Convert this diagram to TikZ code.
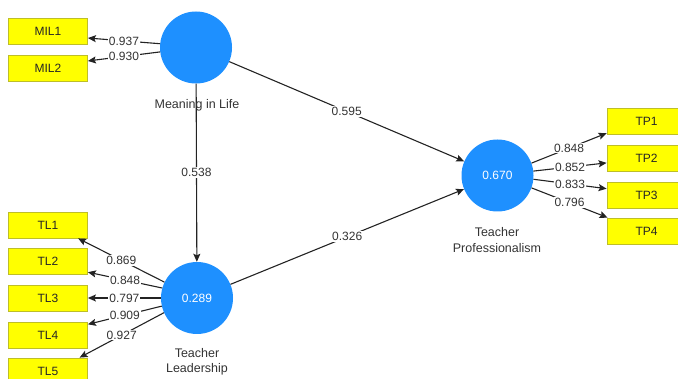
\documentclass[tikz,border=0pt]{standalone}
\usepackage{fontspec}
\setmainfont{Liberation Sans}
\usetikzlibrary{arrows.meta}
\definecolor{lvc}{RGB}{30,144,255}
\definecolor{indc}{RGB}{255,255,0}
\definecolor{indb}{RGB}{190,190,40}
\definecolor{lnc}{RGB}{35,35,35}
\begin{document}
\begin{tikzpicture}[x=1pt,y=-1pt,
 lvar/.style={circle,fill=lvc,minimum size=72pt,inner sep=0pt,text=white,font=\fontsize{12}{14}\selectfont},
 indbox/.style={rectangle,fill=indc,draw=indb,line width=0.8pt,minimum width=79pt,minimum height=26pt,inner sep=0pt,font=\fontsize{12}{14}\selectfont,text=black!85},
 conn/.style={draw=lnc,line width=1.1pt,-{Stealth[length=8pt,width=7pt,inset=1.5pt]}},
 lab/.style={fill=white,inner sep=1pt,font=\fontsize{12}{14}\selectfont,text=black!80},
 capt/.style={align=center,font=\fontsize{12.5}{15.5}\selectfont,text=black!80}
]
\useasboundingbox (0,0) rectangle (678,379);
% latent variables
\node[lvar] (ml) at (196,47.5) {};
\node[lvar] (tl) at (197,298) {0.289};
\node[lvar] (tp) at (497.5,175.5) {0.670};
% indicator boxes
\node[indbox] (mil1) at (48,31) {MIL1};
\node[indbox] (mil2) at (48,68) {MIL2};
\node[indbox] (tl1) at (48,225) {TL1};
\node[indbox] (tl2) at (48,261.5) {TL2};
\node[indbox] (tl3) at (48,298) {TL3};
\node[indbox] (tl4) at (48,335) {TL4};
\node[indbox] (tl5) at (48,371) {TL5};
\node[indbox] (tp1) at (646.5,121) {TP1};
\node[indbox] (tp2) at (646.5,158) {TP2};
\node[indbox] (tp3) at (646.5,195) {TP3};
\node[indbox] (tp4) at (646.5,231) {TP4};
% structural paths
\draw[conn] (ml) -- node[lab]{0.595} (tp);
\draw[conn] (ml) -- node[lab]{0.538} (tl);
\draw[conn] (tl) -- node[lab]{0.326} (tp);
% outer loadings
\draw[conn] (ml.174) -- node[lab]{0.937} (mil1.-10);
\draw[conn] (ml.187) -- node[lab]{0.930} (mil2.10);
\draw[conn] (tl.154) -- node[lab]{0.869} (tl1.-24);
\draw[conn] (tl.164) -- node[lab]{0.848} (tl2.-15);
\draw[conn] (tl.180) -- node[lab]{0.797} (tl3.0);
\draw[conn] (tl.193) -- node[lab]{0.909} (tl4.15);
\draw[conn] (tl.204) -- node[lab]{0.927} (tl5.23);
\draw[conn] (tp.20) -- node[lab]{0.848} (tp1.197);
\draw[conn] (tp.7) -- node[lab]{0.852} (tp2.187);
\draw[conn] (tp.-6) -- node[lab]{0.833} (tp3.171);
\draw[conn] (tp.-20) -- node[lab]{0.796} (tp4.161);
% captions
\node[capt] (mlc) at (197,105) {Meaning in Life};
\node[capt] (tlc) at (197,362) {Teacher\\Leadership};
\node[capt] (tpc) at (497,240) {Teacher\\Professionalism};
\end{tikzpicture}
\end{document}
